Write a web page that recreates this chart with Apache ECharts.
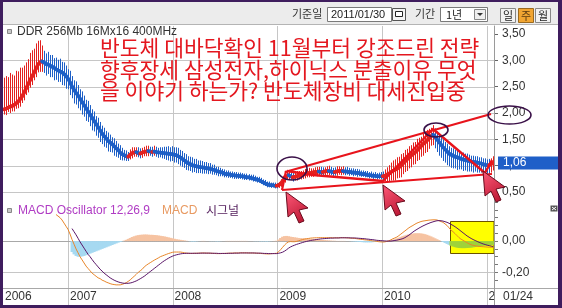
<!DOCTYPE html>
<html><head><meta charset="utf-8">
<script src="https://cdn.jsdelivr.net/npm/echarts@6/dist/echarts.min.js"></script>
<style>html,body{margin:0;padding:0;background:#fff}#c{width:562px;height:308px}</style>
</head><body><div id="c"></div>
<script>
// ---------- data (weekly) ----------
const firstWeek = [2006, 4, 22];          // first weekly bar (UTC y, m0, d)
const close = [
2.07,2.08,2.10,2.12,2.13,2.15,2.18,2.21,2.26,2.31,
2.38,2.46,2.54,2.62,2.69,2.76,2.84,2.92,2.96,2.98,
2.96,2.93,2.92,2.90,2.88,2.86,2.83,2.81,2.79,2.77,
2.74,2.70,2.65,2.58,2.50,2.44,2.38,2.33,2.27,2.21,
2.15,2.09,2.03,1.97,1.91,1.85,1.79,1.73,1.67,1.61,
1.56,1.52,1.47,1.44,1.41,1.37,1.33,1.30,1.25,1.22,
1.20,1.18,1.17,1.21,1.24,1.25,1.26,1.24,1.23,1.25,
1.26,1.27,1.28,1.27,1.26,1.27,1.26,1.25,1.25,1.24,
1.24,1.23,1.23,1.22,1.22,1.21,1.20,1.18,1.16,1.13,
1.10,1.07,1.05,1.03,1.01,1.00,0.99,0.98,0.97,0.97,
0.96,0.95,0.95,0.94,0.93,0.92,0.90,0.89,0.88,0.87,
0.85,0.84,0.84,0.83,0.82,0.82,0.81,0.81,0.80,0.80,
0.79,0.78,0.78,0.77,0.76,0.75,0.74,0.73,0.71,0.69,
0.67,0.65,0.64,0.63,0.63,0.62,0.62,0.63,0.66,0.71,
0.76,0.80,0.82,0.80,0.78,0.79,0.80,0.81,0.82,0.82,
0.84,0.85,0.86,0.86,0.87,0.88,0.88,0.89,0.88,0.88,
0.89,0.90,0.90,0.89,0.88,0.88,0.89,0.90,0.90,0.90,
0.89,0.89,0.88,0.88,0.87,0.87,0.86,0.86,0.85,0.84,
0.84,0.83,0.82,0.82,0.81,0.81,0.80,0.80,0.80,0.80,
0.81,0.83,0.85,0.88,0.90,0.92,0.94,0.97,1.00,1.04,
1.08,1.12,1.15,1.19,1.22,1.25,1.29,1.33,1.37,1.41,
1.44,1.48,1.52,1.56,1.59,1.55,1.50,1.45,1.40,1.35,
1.31,1.27,1.23,1.21,1.19,1.17,1.16,1.15,1.13,1.12,
1.11,1.10,1.09,1.08,1.07,1.07,1.06,1.05,1.04,1.03,
1.02,1.01,1.01,1.03,1.06];
const wickUp = [
.60,.62,.58,.64,.60,.56,.62,.58,.60,.55,
.52,.50,.48,.52,.50,.46,.48,.45,.42,.30,
.22,.20,.24,.20,.22,.18,.22,.20,.24,.20,
.22,.20,.18,.22,.20,.18,.22,.20,.18,.20,
.18,.16,.20,.18,.16,.18,.15,.18,.16,.15,
.16,.14,.16,.15,.13,.15,.14,.12,.14,.12,
.10,.11,.09,.10,.11,.10,.09,.11,.10,.09,
.10,.11,.10,.09,.10,.11,.10,.09,.10,.11,
.12,.13,.14,.13,.15,.14,.15,.16,.14,.15,
.14,.15,.13,.14,.15,.13,.14,.12,.13,.12,
.11,.12,.10,.11,.09,.10,.08,.09,.08,.07,
.08,.07,.07,.06,.07,.06,.07,.06,.07,.06,
.06,.07,.06,.06,.07,.06,.05,.06,.06,.05,
.06,.05,.06,.05,.05,.06,.05,.06,.08,.10,
.10,.09,.10,.09,.08,.09,.10,.09,.08,.09,
.10,.09,.10,.09,.08,.09,.10,.09,.10,.09,
.08,.09,.10,.09,.08,.09,.10,.09,.08,.09,
.08,.09,.08,.07,.08,.07,.08,.07,.06,.07,
.06,.07,.06,.07,.06,.07,.06,.07,.08,.09,
.12,.14,.16,.18,.20,.20,.22,.20,.22,.20,
.22,.20,.22,.20,.22,.20,.22,.20,.18,.20,
.18,.20,.18,.16,.18,.16,.15,.16,.14,.15,
.14,.15,.14,.13,.14,.13,.14,.13,.12,.13,
.12,.13,.12,.11,.12,.11,.12,.11,.12,.11,
.12,.11,.12,.11,.12];
const wickDown = [
.10,.12,.08,.12,.10,.12,.10,.12,.14,.12,
.14,.12,.15,.14,.16,.14,.16,.15,.18,.20,
.20,.22,.18,.22,.20,.24,.20,.22,.20,.24,
.22,.24,.20,.24,.22,.26,.22,.24,.22,.24,
.22,.24,.20,.22,.24,.20,.22,.20,.22,.20,
.20,.18,.20,.18,.16,.18,.16,.15,.14,.12,
.10,.09,.08,.09,.10,.08,.09,.08,.09,.10,
.08,.09,.10,.08,.09,.08,.09,.10,.09,.10,
.11,.12,.13,.14,.13,.15,.14,.15,.16,.15,
.14,.15,.14,.13,.14,.12,.13,.12,.11,.12,
.11,.10,.11,.09,.10,.09,.08,.09,.08,.07,
.07,.06,.07,.06,.06,.07,.06,.06,.05,.06,
.06,.05,.06,.05,.06,.05,.06,.05,.05,.06,
.05,.06,.05,.05,.04,.05,.05,.05,.06,.08,
.08,.07,.08,.07,.08,.07,.08,.07,.08,.07,
.08,.07,.08,.07,.08,.07,.08,.07,.08,.07,
.08,.07,.08,.07,.08,.07,.08,.07,.08,.07,
.07,.06,.07,.06,.07,.06,.07,.06,.06,.05,
.06,.05,.06,.05,.06,.05,.06,.05,.06,.07,
.10,.12,.14,.16,.18,.20,.18,.20,.22,.20,
.20,.22,.20,.22,.20,.22,.20,.22,.20,.22,
.20,.22,.20,.18,.20,.22,.24,.26,.25,.26,
.25,.26,.24,.25,.24,.22,.24,.22,.20,.22,
.20,.21,.20,.19,.20,.18,.19,.18,.17,.18,
.17,.16,.17,.16,.15];
const macdStart = 26;
const macd = [
0.17,0.16,0.15,0.135,
0.115,0.095,0.075,0.045,0.01,-0.02,-0.05,-0.075,-0.10,-0.12,
-0.14,-0.16,-0.175,-0.19,-0.205,-0.215,-0.225,-0.235,-0.24,-0.25,
-0.255,-0.262,-0.267,-0.272,-0.276,-0.278,-0.28,-0.28,-0.28,-0.277,
-0.272,-0.266,-0.258,-0.248,-0.236,-0.225,-0.213,-0.2,-0.19,-0.18,
-0.165,-0.155,-0.146,-0.138,-0.13,-0.122,-0.115,-0.108,-0.1,-0.095,
-0.09,-0.085,-0.08,-0.076,-0.072,-0.07,-0.07,-0.07,-0.07,-0.072,
-0.075,-0.077,-0.078,-0.079,-0.079,-0.078,-0.078,-0.077,-0.077,-0.076,
-0.076,-0.077,-0.077,-0.078,-0.078,-0.079,-0.08,-0.08,-0.08,-0.079,
-0.079,-0.078,-0.078,-0.077,-0.077,-0.076,-0.076,-0.076,-0.075,-0.075,
-0.075,-0.075,-0.076,-0.076,-0.076,-0.077,-0.077,-0.078,-0.079,-0.08,
-0.081,-0.082,-0.082,-0.081,-0.08,-0.079,-0.078,-0.068,-0.055,-0.04,
-0.025,-0.013,-0.005,-0.003,-0.004,-0.004,-0.002,0.002,0.006,0.01,
0.013,0.015,0.017,0.019,0.02,0.021,0.021,0.022,0.022,0.022,
0.022,0.022,0.022,0.022,0.021,0.021,0.021,0.021,0.022,0.022,
0.022,0.021,0.02,0.019,0.018,0.017,0.015,0.013,0.011,0.01,
0.008,0.007,0.005,0.003,0.001,0.0,-0.002,-0.004,-0.005,-0.006,
-0.005,-0.002,0.002,0.008,0.015,0.02,0.026,0.035,0.045,0.055,
0.065,0.075,0.085,0.093,0.1,0.108,0.115,0.12,0.125,0.128,
0.13,0.132,0.134,0.135,0.136,0.136,0.135,0.13,0.125,0.12,
0.11,0.1,0.085,0.07,0.06,0.048,0.035,0.022,0.012,0.005,
-0.003,-0.01,-0.018,-0.023,-0.027,-0.03,-0.032,-0.034,-0.035,-0.036,
-0.037,-0.038,-0.039,-0.039,-0.04];
const signalStart = 34;
const signal = [
0.08,0.06,0.04,0.018,-0.005,-0.025,
-0.045,-0.065,-0.085,-0.1,-0.118,-0.135,-0.15,-0.165,-0.18,-0.192,
-0.205,-0.215,-0.225,-0.235,-0.243,-0.25,-0.256,-0.261,-0.265,-0.268,
-0.27,-0.27,-0.27,-0.268,-0.265,-0.26,-0.255,-0.248,-0.241,-0.233,
-0.225,-0.215,-0.205,-0.195,-0.185,-0.175,-0.165,-0.155,-0.145,-0.135,
-0.126,-0.118,-0.11,-0.103,-0.097,-0.092,-0.088,-0.085,-0.082,-0.08,
-0.079,-0.078,-0.078,-0.078,-0.078,-0.078,-0.078,-0.078,-0.077,-0.077,
-0.077,-0.077,-0.077,-0.077,-0.078,-0.078,-0.078,-0.079,-0.079,-0.079,
-0.079,-0.079,-0.078,-0.078,-0.078,-0.077,-0.077,-0.077,-0.076,-0.076,
-0.076,-0.076,-0.076,-0.076,-0.076,-0.076,-0.077,-0.077,-0.077,-0.078,
-0.079,-0.079,-0.08,-0.08,-0.08,-0.08,-0.08,-0.078,-0.075,-0.071,
-0.064,-0.055,-0.045,-0.037,-0.031,-0.026,-0.021,-0.017,-0.013,-0.009,
-0.005,-0.002,0.001,0.004,0.006,0.008,0.01,0.012,0.014,0.015,
0.016,0.017,0.018,0.019,0.019,0.02,0.02,0.02,0.021,0.021,
0.021,0.021,0.021,0.02,0.02,0.02,0.019,0.018,0.017,0.016,
0.015,0.013,0.012,0.01,0.009,0.007,0.005,0.004,0.003,0.002,
0.001,0.0,0.0,0.0,0.002,0.004,0.006,0.009,0.012,0.016,
0.022,0.03,0.038,0.048,0.058,0.067,0.075,0.083,0.09,0.097,
0.103,0.109,0.114,0.119,0.123,0.127,0.13,0.131,0.13,0.128,
0.124,0.12,0.114,0.107,0.1,0.092,0.083,0.073,0.063,0.053,
0.043,0.033,0.025,0.017,0.01,0.004,-0.002,-0.008,-0.013,-0.018,
-0.022,-0.026,-0.029,-0.032,-0.035];
const oscStart = 34;
const osc = [
-0.07,-0.085,-0.095,-0.1,-0.1,-0.098,
-0.095,-0.09,-0.085,-0.08,-0.075,-0.07,-0.065,-0.06,-0.055,-0.05,
-0.045,-0.04,-0.035,-0.03,-0.025,-0.02,-0.015,-0.01,-0.006,-0.002,
0.003,0.008,0.014,0.02,0.026,0.031,0.035,0.038,0.04,0.041,
0.042,0.042,0.041,0.04,0.04,0.039,0.038,0.036,0.034,0.032,
0.03,0.027,0.024,0.021,0.018,0.015,0.012,0.01,0.008,0.006,
0.004,0.002,0.0,-0.002,-0.003,-0.003,-0.002,-0.001,0.0,0.001,
0.001,0.0,0.0,-0.001,-0.001,-0.001,-0.002,-0.002,-0.001,0.0,
0.0,0.001,0.001,0.001,0.001,0.001,0.001,0.001,0.001,0.001,
0.001,0.001,0.0,0.0,0.0,-0.001,-0.001,-0.001,-0.002,-0.002,
-0.002,-0.003,-0.002,-0.001,0.0,0.001,0.002,0.01,0.02,0.028,
0.032,0.033,0.031,0.028,0.026,0.024,0.022,0.02,0.019,0.018,
0.017,0.016,0.015,0.014,0.013,0.012,0.011,0.01,0.008,0.007,
0.006,0.005,0.004,0.003,0.002,0.002,0.001,0.001,0.001,0.001,
0.001,0.0,0.0,-0.001,-0.002,-0.003,-0.004,-0.005,-0.006,-0.007,
-0.008,-0.008,-0.008,-0.008,-0.007,-0.006,-0.005,-0.004,-0.003,-0.002,
-0.001,0.0,0.002,0.005,0.008,0.012,0.017,0.022,0.027,0.032,
0.036,0.04,0.043,0.046,0.048,0.05,0.05,0.05,0.049,0.047,
0.044,0.04,0.035,0.03,0.024,0.018,0.012,0.006,0.0,-0.006,
-0.012,-0.018,-0.024,-0.03,-0.035,-0.039,-0.042,-0.044,-0.045,-0.045,
-0.045,-0.044,-0.043,-0.042,-0.04,-0.038,-0.036,-0.034,-0.032,-0.03,
-0.029,-0.028,-0.027,-0.026,-0.025];
const priceTicks = [0.5, 1.0, 1.5, 2.0, 2.5, 3.0, 3.5];
const priceGrid = [0.5, 1.0, 1.5, 2.0, 2.5, 3.0];
const macdLabels = [0, -0.2];
const yearStarts = [[2007,0,1],[2008,0,1],[2009,0,1],[2010,0,1],[2011,0,1]];
const lastPrice = 1.06;
const lastDateLabel = '01/24';
const highlightFrom = 223;   // week index where the yellow box begins
const headline = [
  '반도체 대바닥확인 11월부터 강조드린 전략',
  '향후장세 삼성전자,하이닉스 분출이유 무엇',
  '을 이야기 하는가? 반도체장비 대세진입중'
];

// ---------- build ----------
const DAY = 86400000;
const t0 = Date.UTC(firstWeek[0], firstWeek[1], firstWeek[2]);
const times = close.map((_, i) => t0 + i * 7 * DAY);
const xMin = Date.UTC(2006, 4, 19), xMax = Date.UTC(2011, 0, 27);
const RED = '#e3211f', BLUE = '#1d5fc6';
const dir = []; let d = 1;
close.forEach((c, i) => { if (i > 0) { if (c > close[i-1]) d = 1; else if (c < close[i-1]) d = 0; } dir.push(d); });
const wickData = close.map((c, i) => [times[i], +(c - wickDown[i]).toFixed(3), +(c + wickUp[i]).toFixed(3), dir[i]]);
const segData = [];
for (let i = 1; i < close.length; i++) segData.push([times[i-1], times[i], close[i-1], close[i], dir[i]]);
const FONT = 'Liberation Sans';
const yearLabels = [xMin].concat(yearStarts.map(a => Date.UTC(a[0], a[1], a[2])));

const chart = echarts.init(document.getElementById('c'), null, {renderer: 'canvas', width: 562, height: 308});
const option = {
  animation: false,
  backgroundColor: '#ffffff',
  grid: [
    {left: 3, top: 26, width: 491, height: 174, outerBoundsMode: 'none', containLabel: false},
    {left: 3, top: 202, width: 491, height: 86, outerBoundsMode: 'none', containLabel: false}
  ],
  xAxis: [
    {type: 'value', gridIndex: 0, min: xMin, max: xMax, show: false, splitLine: {show: false}},
    {type: 'value', gridIndex: 1, min: xMin, max: xMax,
      axisLine: {show: false}, axisTick: {show: false}, splitLine: {show: false},
      axisLabel: {customValues: yearLabels,
        formatter: v => String(new Date(v).getUTCFullYear()),
        align: 'left', margin: 3, padding: [0, 0, 0, 2], color: '#333', fontSize: 12, fontFamily: FONT}}
  ],
  yAxis: [
    {type: 'value', gridIndex: 0, position: 'right', min: 0.35, max: 3.65,
      axisLine: {show: true, lineStyle: {color: '#9a9a9a'}},
      axisTick: {show: true, inside: false, length: 4, customValues: priceTicks, lineStyle: {color: '#666'}},
      splitLine: {show: false},
      axisLabel: {customValues: priceTicks, formatter: v => v.toFixed(2).replace('.', ','), margin: 8,
        color: '#333', fontSize: 12, fontFamily: FONT}},
    {type: 'value', gridIndex: 1, position: 'right', min: -0.3, max: 0.25, interval: 0.05,
      axisLine: {show: true, lineStyle: {color: '#9a9a9a'}},
      axisTick: {show: true, length: 4, lineStyle: {color: '#777'}},
      splitLine: {show: false},
      axisLabel: {customValues: macdLabels, formatter: v => v.toFixed(2).replace('.', ','), margin: 8,
        color: '#333', fontSize: 12, fontFamily: FONT}}
  ],
  series: [
    {type: 'custom', xAxisIndex: 0, yAxisIndex: 0, data: wickData, encode: {x: 0, y: [1, 2]}, silent: true, clip: true,
      renderItem: (p, api) => {
        const a = api.coord([api.value(0), api.value(1)]);
        const b = api.coord([api.value(0), api.value(2)]);
        const x = Math.round(a[0]) + 0.5;
        return {type: 'line', shape: {x1: x, y1: a[1], x2: x, y2: b[1]},
          style: {stroke: api.value(3) ? RED : BLUE, lineWidth: 1}};
      }},
    {type: 'custom', xAxisIndex: 0, yAxisIndex: 0, data: segData, encode: {x: [0, 1], y: [2, 3]}, silent: true, clip: true,
      renderItem: (p, api) => {
        const a = api.coord([api.value(0), api.value(2)]);
        const b = api.coord([api.value(1), api.value(3)]);
        return {type: 'line', shape: {x1: a[0], y1: a[1], x2: b[0], y2: b[1]},
          style: {stroke: api.value(4) ? RED : BLUE, lineWidth: 3.6, lineCap: 'round'}};
      }},
    {type: 'bar', xAxisIndex: 1, yAxisIndex: 1, barWidth: 3, silent: true,
      data: osc.map((v, k) => [times[oscStart + k], v]),
      itemStyle: {color: p => p.value[1] >= 0 ? '#f6c3a2' : ((oscStart + p.dataIndex) >= highlightFrom ? '#9fd23a' : '#a6d9f1')}},
    {type: 'line', xAxisIndex: 1, yAxisIndex: 1, showSymbol: false, silent: true, z: 4,
      data: macd.map((v, k) => [times[macdStart + k], v]), lineStyle: {color: '#e8862a', width: 1}},
    {type: 'line', xAxisIndex: 1, yAxisIndex: 1, showSymbol: false, silent: true, z: 5,
      data: signal.map((v, k) => [times[signalStart + k], v]), lineStyle: {color: '#5a1668', width: 1}}
  ]
};
chart.setOption(option);

// ---------- frame, grid lines, annotations ----------
const px = t => chart.convertToPixel({xAxisIndex: 1}, t);
const pyP = v => chart.convertToPixel({yAxisIndex: 0}, v);
const pyM = v => chart.convertToPixel({yAxisIndex: 1}, v);
const G = [];
const line = (x1, y1, x2, y2, c, w, z) => G.push({type: 'line', silent: true, z: z, shape: {x1, y1, x2, y2}, style: {stroke: c, lineWidth: w || 1}});
const rect = (x, y, w, h, fill, stroke, z) => G.push({type: 'rect', silent: true, z: z, shape: {x, y, width: w, height: h}, style: {fill: fill, stroke: stroke || null, lineWidth: 1}});
const text = (s, x, y, font, color, z) => G.push({type: 'text', silent: true, z: z, x: x, y: y, style: {text: s, font: font, fill: color, align: 'left', verticalAlign: 'middle'}});

yearStarts.forEach(a => { const x = Math.round(px(Date.UTC(a[0], a[1], a[2]))) + 0.5; line(x, 26, x, 305, '#c6c6c6', 1, 1); });
priceGrid.forEach(v => { const y = Math.round(pyP(v)) + 0.5; line(3, y, 494, y, '#c6c6c6', 1, 1); });
macdLabels.forEach(v => { const y = Math.round(pyM(v)) + 0.5; line(3, y, 494, y, v === 0 ? '#a8a8a8' : '#c6c6c6', 1, 1); });
line(3, 288.5, 558, 288.5, '#a8a8a8', 1, 51);
rect(0, 0, 562, 25, '#ececec', null, 40);
line(0, 24.5, 562, 24.5, '#b4b4b4', 1, 41);
text('기준일', 292, 14, '11px "Noto Sans CJK KR"', '#333', 42);
rect(327.5, 7.5, 64, 14, '#ffffff', '#7a7a7a', 42);
text('2011/01/30', 331, 14.5, '11px "Liberation Sans"', '#222', 43);
rect(392.5, 8.5, 13, 12, '#f4f4f4', '#555', 42);
rect(395.5, 11.5, 7, 5, '#ffffff', '#222', 43);
text('기간', 415, 14, '11px "Noto Sans CJK KR"', '#333', 42);
rect(440.5, 7.5, 47, 14, '#ffffff', '#7a7a7a', 42);
text('1년', 446, 14.5, '11px "Noto Sans CJK KR"', '#222', 43);
rect(474.5, 9.5, 11, 10, '#eeeeee', '#888', 43);
G.push({type: 'polygon', silent: true, z: 44, shape: {points: [[477, 13], [483, 13], [480, 16]]}, style: {fill: '#333'}});
rect(500.5, 8.5, 15, 14, '#f2f2f2', '#888', 42);
text('일', 503, 15.5, '11px "Noto Sans CJK KR"', '#222', 43);
rect(518.5, 8.5, 15, 14, '#f1a532', '#9a6a20', 42);
text('주', 521, 15.5, '11px "Noto Sans CJK KR"', '#5a3a10', 43);
rect(535.5, 8.5, 15, 14, '#f2f2f2', '#888', 42);
text('월', 538, 15.5, '11px "Noto Sans CJK KR"', '#222', 43);
rect(494.5, 289, 63, 16, '#ffffff', null, 50);
line(494.5, 26, 494.5, 305, '#9a9a9a', 1, 51);
text(lastDateLabel, 503, 297, '12px "Liberation Sans"', '#333', 52);
const yl = pyP(lastPrice);
rect(498, Math.round(yl) - 6.5, 60, 13, '#1f5fc8', null, 60);
text(lastPrice.toFixed(2).replace('.', ','), 503, Math.round(yl), '12px "Liberation Sans"', '#ffffff', 61);
rect(7.5, 29.5, 4, 4, '#c8c8c8', '#888', 45);
text('DDR 256Mb 16Mx16 400MHz', 17, 32, '12px "Liberation Sans"', '#333', 45);
rect(7.5, 208.5, 4, 4, '#c8c8c8', '#888', 45);
text('MACD Oscillator 12,26,9', 18, 210.5, '12px "Liberation Sans"', '#b03cc4', 45);
text('MACD', 162, 210.5, '12px "Liberation Sans"', '#e89a62', 45);
text('시그널', 206, 210.5, '12px "Noto Sans CJK KR"', '#55205e', 45);
rect(550.5, 205.5, 7, 6, '#555', null, 45);
line(552, 207, 556, 210, '#fff', 1, 46); line(556, 207, 552, 210, '#fff', 1, 46);
const bx = Math.round((px(times[highlightFrom - 1]) + px(times[highlightFrom])) / 2) + 0.5;
rect(bx, 221.5, 494 - bx, 32, '#ffff00', '#6b5200', 1);
headline.forEach((s, i) => text(s, 100, 48 + i * 21.5, '21.5px "Noto Sans CJK KR"', '#e4171f', 90));
const RL = '#e8141c';
const poly = (pts, w, z) => G.push({type: 'polyline', silent: true, z: z, shape: {points: pts}, style: {stroke: RL, lineWidth: w, fill: null, lineJoin: 'round'}});
poly([[282, 190], [492, 174]], 2.2, 80);
poly([[285, 172], [491, 114]], 2.2, 80);
poly([[282, 190], [286, 171]], 2.2, 80);
poly([[287, 171], [313, 175], [383, 181], [433, 129], [485, 173], [492, 160]], 2.4, 80);
const ell = (cx, cy, rx, ry) => G.push({type: 'ellipse', silent: true, z: 82, shape: {cx, cy, rx, ry}, style: {fill: null, stroke: '#3a1048', lineWidth: 1.6}});
ell(292, 168.5, 15, 11.5);
ell(436, 130, 12, 7);
ell(509.5, 115, 21.5, 9);
const arrowShape = [[0, 0], [2, 25], [8, 20], [13, 31], [18, 29], [13, 18], [22, 16]];
[[286, 192], [383, 185], [483, 171]].forEach(tp => {
  G.push({type: 'polygon', silent: true, z: 85,
    shape: {points: arrowShape.map(p => [tp[0] + p[0], tp[1] + p[1]])},
    style: {fill: new echarts.graphic.LinearGradient(0, 0, 1, 1, [{offset: 0, color: '#ff5a78'}, {offset: 1, color: '#b3102c'}]),
      stroke: '#6a0a1c', lineWidth: 1}});
});
rect(0, 0, 3, 308, '#3f1d5e', null, 95);
rect(558, 0, 4, 308, '#3f1d5e', null, 95);
rect(0, 0, 562, 2, '#3f1d5e', null, 95);
rect(0, 305, 562, 3, '#3f1d5e', null, 95);
chart.setOption({graphic: {elements: G}});
</script>
</body></html>
